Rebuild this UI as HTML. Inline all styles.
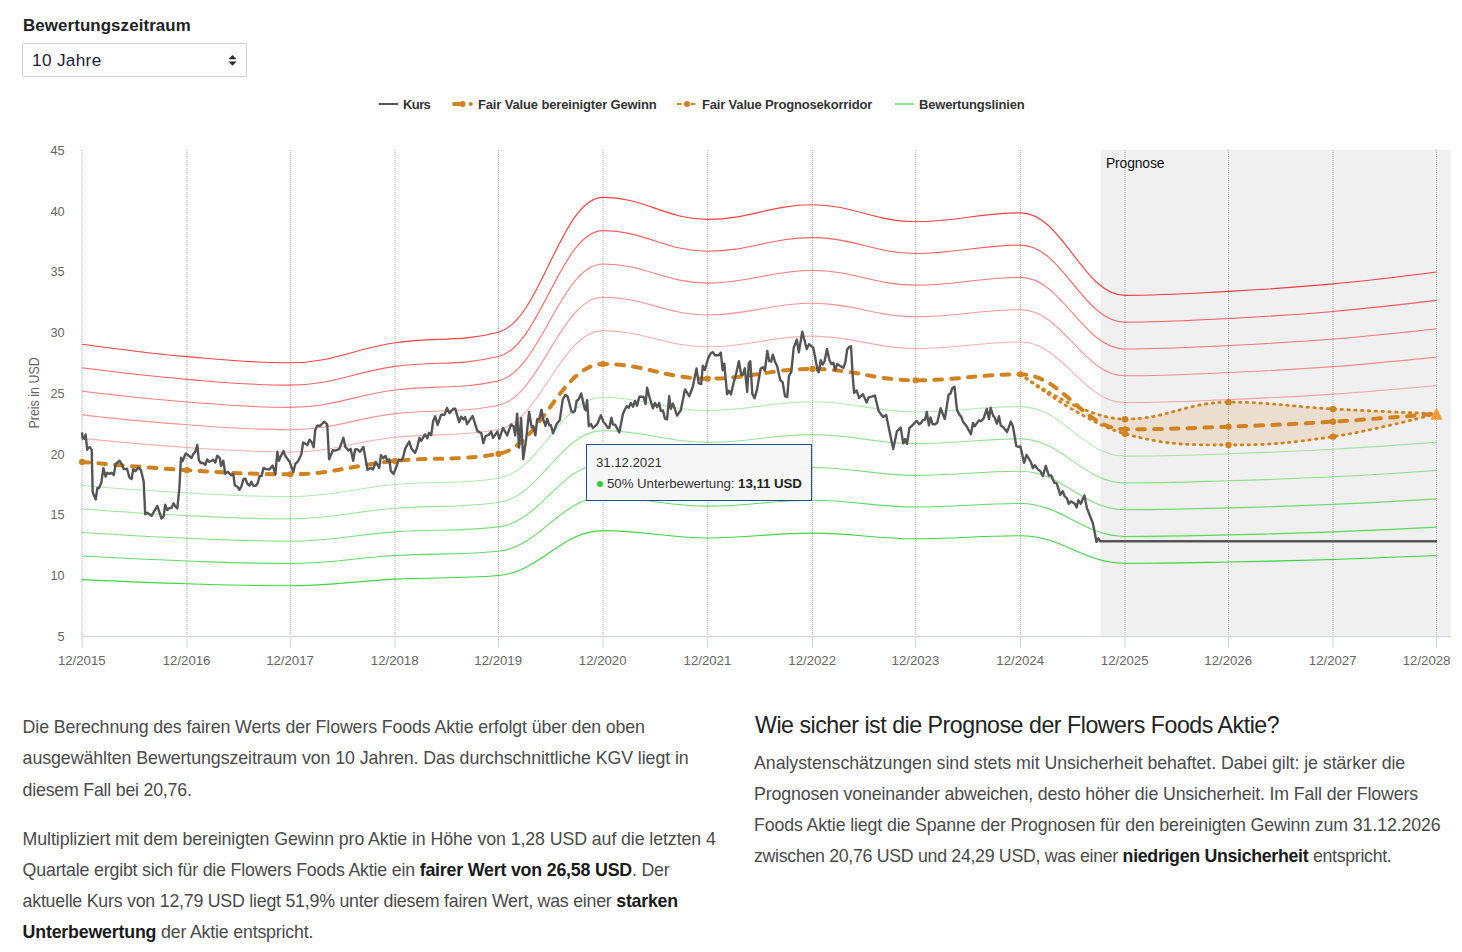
<!DOCTYPE html>
<html><head><meta charset="utf-8"><style>
*{margin:0;padding:0;box-sizing:border-box}
html,body{width:1462px;height:952px;overflow:hidden;background:#fff}
body{font-family:"Liberation Sans",sans-serif;position:relative;color:#333}
svg text{font-family:"Liberation Sans",sans-serif}
.t{position:absolute;white-space:nowrap}
.t b{color:#1a1a1a}
.sel{position:absolute;left:22px;top:43px;width:225px;height:34px;border:1px solid #d2d2d2;background:#fff}
.sel svg{position:absolute;left:204px;top:10px}
.tt{position:absolute;left:586px;top:444px;width:226px;height:57px;border:1px solid #1f4d96;background:#f7f7f7}
.dot{position:absolute;left:596.7px;top:480.9px;width:6.6px;height:6.6px;border-radius:50%;background:#33cc33}
</style></head><body>
<div class="sel"><svg width="12" height="14" viewBox="0 0 12 14"><path d="M1.45 5.3 L5.5 1.1 L9.55 5.3Z M1.45 7.6 L5.5 11.7 L9.55 7.6Z" fill="#2a2a2a"/></svg></div>
<svg width="1462" height="20" style="position:absolute;left:0;top:94px">
<g font-size="12.5" font-weight="bold" fill="#333">
<path d="M379 10 H398" stroke="#555" stroke-width="2"/>
<path d="M454 10 H462" stroke="#cf821f" stroke-width="3.8" stroke-linecap="round"/><circle cx="462.6" cy="10" r="2.9" fill="#cf821f"/><circle cx="470.8" cy="10" r="2" fill="#cf821f"/>
<path d="M677 10 H681.5 M691 10 H695.5" stroke="#cf821f" stroke-width="2"/><circle cx="687" cy="10" r="3" fill="#cf821f"/>
<path d="M895 10 H914" stroke="#8fe88f" stroke-width="2"/>
</g></svg>
<svg width="1462" height="610" viewBox="0 100 1462 610" style="position:absolute;left:0;top:100px">
<rect x="1100.4" y="150" width="350.5" height="486" fill="#f0f0f0"/>
<g stroke="#b0b0b0" stroke-width="1" stroke-dasharray="1,1" fill="none"><path d="M82.1 150 V636" /><path d="M186.9 150 V636" /><path d="M290.3 150 V636" /><path d="M395.0 150 V636" /><path d="M498.5 150 V636" /><path d="M603.0 150 V636" /><path d="M707.7 150 V636" /><path d="M812.5 150 V636" /><path d="M915.7 150 V636" /><path d="M1020.5 150 V636" /><path d="M1125.0 150 V636" /><path d="M1228.5 150 V636" /><path d="M1333.0 150 V636" /><path d="M1436.5 150 V636" /></g>
<g fill="none" stroke-width="1.1"><path d="M82.10 438.37 C82.10 438.37 144.98 444.71 186.90 447.46 C228.26 450.17 248.94 452.00 290.30 452.00 C332.18 452.00 353.12 441.82 395.00 437.30 C436.40 432.84 457.10 437.30 498.50 429.55 C540.30 421.80 561.20 330.65 603.00 330.65 C644.88 330.65 665.82 346.82 707.70 346.82 C749.62 346.82 770.58 336.13 812.50 336.13 C853.78 336.13 874.42 348.56 915.70 348.56 C957.62 348.56 978.58 342.01 1020.50 342.01 C1062.30 342.01 1083.20 402.55 1125.00 402.55 C1166.40 402.55 1187.10 401.29 1228.50 399.61 C1270.30 397.92 1291.20 396.98 1333.00 394.13 C1374.40 391.31 1436.50 385.44 1436.50 385.44" stroke="rgba(255,0,0,0.32)"/><path d="M82.10 414.84 C82.10 414.84 144.98 421.76 186.90 424.75 C228.26 427.70 248.94 429.71 290.30 429.71 C332.18 429.71 353.12 418.60 395.00 413.67 C436.40 408.80 457.10 413.67 498.50 405.21 C540.30 396.76 561.20 297.32 603.00 297.32 C644.88 297.32 665.82 314.96 707.70 314.96 C749.62 314.96 770.58 303.30 812.50 303.30 C853.78 303.30 874.42 316.86 915.70 316.86 C957.62 316.86 978.58 309.71 1020.50 309.71 C1062.30 309.71 1083.20 375.76 1125.00 375.76 C1166.40 375.76 1187.10 374.38 1228.50 372.55 C1270.30 370.71 1291.20 369.68 1333.00 366.58 C1374.40 363.50 1436.50 357.10 1436.50 357.10" stroke="rgba(255,0,0,0.42)"/><path d="M82.10 391.30 C82.10 391.30 144.98 398.80 186.90 402.04 C228.26 405.24 248.94 407.41 290.30 407.41 C332.18 407.41 353.12 395.37 395.00 390.04 C436.40 384.76 457.10 390.04 498.50 380.88 C540.30 371.72 561.20 263.99 603.00 263.99 C644.88 263.99 665.82 283.11 707.70 283.11 C749.62 283.11 770.58 270.47 812.50 270.47 C853.78 270.47 874.42 285.16 915.70 285.16 C957.62 285.16 978.58 277.42 1020.50 277.42 C1062.30 277.42 1083.20 348.97 1125.00 348.97 C1166.40 348.97 1187.10 347.48 1228.50 345.50 C1270.30 343.50 1291.20 342.38 1333.00 339.02 C1374.40 335.69 1436.50 328.75 1436.50 328.75" stroke="rgba(255,0,0,0.52)"/><path d="M82.10 367.77 C82.10 367.77 144.98 375.84 186.90 379.33 C228.26 382.78 248.94 385.12 290.30 385.12 C332.18 385.12 353.12 372.15 395.00 366.41 C436.40 360.72 457.10 366.41 498.50 356.54 C540.30 346.67 561.20 230.67 603.00 230.67 C644.88 230.67 665.82 251.25 707.70 251.25 C749.62 251.25 770.58 237.64 812.50 237.64 C853.78 237.64 874.42 253.46 915.70 253.46 C957.62 253.46 978.58 245.12 1020.50 245.12 C1062.30 245.12 1083.20 322.18 1125.00 322.18 C1166.40 322.18 1187.10 320.57 1228.50 318.44 C1270.30 316.28 1291.20 315.09 1333.00 311.46 C1374.40 307.87 1436.50 300.41 1436.50 300.41" stroke="rgba(255,0,0,0.62)"/><path d="M82.10 344.23 C82.10 344.23 144.98 352.88 186.90 356.62 C228.26 360.32 248.94 362.82 290.30 362.82 C332.18 362.82 353.12 348.93 395.00 342.77 C436.40 336.69 457.10 342.77 498.50 332.20 C540.30 321.63 561.20 197.34 603.00 197.34 C644.88 197.34 665.82 219.39 707.70 219.39 C749.62 219.39 770.58 204.81 812.50 204.81 C853.78 204.81 874.42 221.76 915.70 221.76 C957.62 221.76 978.58 212.83 1020.50 212.83 C1062.30 212.83 1083.20 295.39 1125.00 295.39 C1166.40 295.39 1187.10 293.66 1228.50 291.38 C1270.30 289.07 1291.20 287.79 1333.00 283.91 C1374.40 280.06 1436.50 272.06 1436.50 272.06" stroke="rgba(255,0,0,0.75)"/><path d="M82.10 485.44 C82.10 485.44 144.98 490.63 186.90 492.87 C228.26 495.09 248.94 496.59 290.30 496.59 C332.18 496.59 353.12 488.26 395.00 484.56 C436.40 480.91 457.10 484.56 498.50 478.22 C540.30 471.88 561.20 397.30 603.00 397.30 C644.88 397.30 665.82 410.53 707.70 410.53 C749.62 410.53 770.58 401.79 812.50 401.79 C853.78 401.79 874.42 411.96 915.70 411.96 C957.62 411.96 978.58 406.60 1020.50 406.60 C1062.30 406.60 1083.20 456.13 1125.00 456.13 C1166.40 456.13 1187.10 455.10 1228.50 453.73 C1270.30 452.34 1291.20 451.57 1333.00 449.24 C1374.40 446.94 1436.50 442.14 1436.50 442.14" stroke="rgba(0,200,0,0.32)"/><path d="M82.10 508.97 C82.10 508.97 144.98 513.59 186.90 515.58 C228.26 517.55 248.94 518.89 290.30 518.89 C332.18 518.89 353.12 511.48 395.00 508.20 C436.40 504.95 457.10 508.20 498.50 502.56 C540.30 496.92 561.20 430.63 603.00 430.63 C644.88 430.63 665.82 442.39 707.70 442.39 C749.62 442.39 770.58 434.62 812.50 434.62 C853.78 434.62 874.42 443.66 915.70 443.66 C957.62 443.66 978.58 438.89 1020.50 438.89 C1062.30 438.89 1083.20 482.92 1125.00 482.92 C1166.40 482.92 1187.10 482.00 1228.50 480.79 C1270.30 479.55 1291.20 478.87 1333.00 476.80 C1374.40 474.75 1436.50 470.48 1436.50 470.48" stroke="rgba(0,200,0,0.42)"/><path d="M82.10 532.51 C82.10 532.51 144.98 536.54 186.90 538.29 C228.26 540.01 248.94 541.18 290.30 541.18 C332.18 541.18 353.12 534.70 395.00 531.83 C436.40 528.99 457.10 531.83 498.50 526.89 C540.30 521.96 561.20 463.96 603.00 463.96 C644.88 463.96 665.82 474.25 707.70 474.25 C749.62 474.25 770.58 467.44 812.50 467.44 C853.78 467.44 874.42 475.35 915.70 475.35 C957.62 475.35 978.58 471.19 1020.50 471.19 C1062.30 471.19 1083.20 509.71 1125.00 509.71 C1166.40 509.71 1187.10 508.91 1228.50 507.84 C1270.30 506.77 1291.20 506.17 1333.00 504.36 C1374.40 502.56 1436.50 498.83 1436.50 498.83" stroke="rgba(0,200,0,0.52)"/><path d="M82.10 556.04 C82.10 556.04 144.98 559.50 186.90 561.00 C228.26 562.48 248.94 563.48 290.30 563.48 C332.18 563.48 353.12 557.92 395.00 555.46 C436.40 553.02 457.10 555.46 498.50 551.23 C540.30 547.00 561.20 497.29 603.00 497.29 C644.88 497.29 665.82 506.11 707.70 506.11 C749.62 506.11 770.58 500.27 812.50 500.27 C853.78 500.27 874.42 507.05 915.70 507.05 C957.62 507.05 978.58 503.48 1020.50 503.48 C1062.30 503.48 1083.20 536.51 1125.00 536.51 C1166.40 536.51 1187.10 535.82 1228.50 534.90 C1270.30 533.98 1291.20 533.47 1333.00 531.91 C1374.40 530.37 1436.50 527.17 1436.50 527.17" stroke="rgba(0,200,0,0.62)"/><path d="M82.10 579.58 C82.10 579.58 144.98 582.46 186.90 583.71 C228.26 584.94 248.94 585.77 290.30 585.77 C332.18 585.77 353.12 581.14 395.00 579.09 C436.40 577.06 457.10 579.09 498.50 575.57 C540.30 572.04 561.20 530.61 603.00 530.61 C644.88 530.61 665.82 537.96 707.70 537.96 C749.62 537.96 770.58 533.10 812.50 533.10 C853.78 533.10 874.42 538.75 915.70 538.75 C957.62 538.75 978.58 535.78 1020.50 535.78 C1062.30 535.78 1083.20 563.30 1125.00 563.30 C1166.40 563.30 1187.10 562.72 1228.50 561.96 C1270.30 561.19 1291.20 560.76 1333.00 559.47 C1374.40 558.19 1436.50 555.52 1436.50 555.52" stroke="rgba(0,200,0,0.75)"/></g>
<path d="M1020.50 374.30 C1020.50 374.30 1083.20 419.14 1125.00 419.14 C1166.40 419.14 1187.10 402.13 1228.50 402.13 C1270.30 402.13 1291.20 406.59 1333.00 408.93 C1374.40 411.25 1436.50 413.79 1436.50 413.79 L1436.50 413.79 C1436.50 413.79 1374.40 430.42 1333.00 436.63 C1291.20 442.91 1270.30 445.02 1228.50 445.02 C1187.10 445.02 1166.40 445.02 1125.00 433.84 C1083.20 422.66 1020.50 374.30 1020.50 374.30 Z" fill="rgba(213,133,39,0.16)" stroke="none"/>
<path d="M1020.50 374.30 C1020.50 374.30 1083.20 419.14 1125.00 419.14 C1166.40 419.14 1187.10 402.13 1228.50 402.13 C1270.30 402.13 1291.20 406.59 1333.00 408.93 C1374.40 411.25 1436.50 413.79 1436.50 413.79" fill="none" stroke="#cf821f" stroke-width="2.8" stroke-dasharray="1.4,5.4" stroke-linecap="round"/>
<path d="M1020.50 374.30 C1020.50 374.30 1083.20 422.66 1125.00 433.84 C1166.40 445.02 1187.10 445.02 1228.50 445.02 C1270.30 445.02 1291.20 442.91 1333.00 436.63 C1374.40 430.42 1436.50 413.79 1436.50 413.79" fill="none" stroke="#cf821f" stroke-width="2.8" stroke-dasharray="1.4,5.4" stroke-linecap="round"/>
<path d="M82.10 461.90 C82.10 461.90 144.98 467.67 186.90 470.17 C228.26 472.63 248.94 474.30 290.30 474.30 C332.18 474.30 353.12 465.04 395.00 460.93 C436.40 456.87 457.10 460.93 498.50 453.89 C540.30 446.84 561.20 363.98 603.00 363.98 C644.88 363.98 665.82 378.68 707.70 378.68 C749.62 378.68 770.58 368.96 812.50 368.96 C853.78 368.96 874.42 380.26 915.70 380.26 C957.62 380.26 978.58 374.30 1020.50 374.30 C1062.30 374.30 1083.20 429.34 1125.00 429.34 C1166.40 429.34 1187.10 428.19 1228.50 426.67 C1270.30 425.13 1291.20 424.28 1333.00 421.69 C1374.40 419.12 1436.50 413.79 1436.50 413.79" fill="none" stroke="#cf821f" stroke-width="4" stroke-dasharray="7.6,9.28" stroke-dashoffset="0.52" stroke-linecap="round"/>
<circle cx="82.10" cy="461.90" r="3.1" fill="#cf821f"/><circle cx="186.90" cy="470.17" r="3.1" fill="#cf821f"/><circle cx="290.30" cy="474.30" r="3.1" fill="#cf821f"/><circle cx="395.00" cy="460.93" r="3.1" fill="#cf821f"/><circle cx="498.50" cy="453.89" r="3.1" fill="#cf821f"/><circle cx="603.00" cy="363.98" r="3.1" fill="#cf821f"/><circle cx="707.70" cy="378.68" r="3.1" fill="#cf821f"/><circle cx="812.50" cy="368.96" r="3.1" fill="#cf821f"/><circle cx="915.70" cy="380.26" r="3.1" fill="#cf821f"/><circle cx="1020.50" cy="374.30" r="3.1" fill="#cf821f"/><circle cx="1125.00" cy="429.34" r="3.1" fill="#cf821f"/><circle cx="1228.50" cy="426.67" r="3.1" fill="#cf821f"/><circle cx="1333.00" cy="421.69" r="3.1" fill="#cf821f"/><circle cx="1125.00" cy="419.14" r="3.2" fill="#cf821f"/><circle cx="1125.00" cy="433.84" r="3.2" fill="#cf821f"/><circle cx="1228.50" cy="402.13" r="3.2" fill="#cf821f"/><circle cx="1228.50" cy="445.02" r="3.2" fill="#cf821f"/><circle cx="1333.00" cy="408.93" r="3.2" fill="#cf821f"/><circle cx="1333.00" cy="436.63" r="3.2" fill="#cf821f"/>
<path d="M82.0 432.4 L82.7 438.7 L84.1 437.1 L84.8 438.7 L85.6 434.5 L87.2 449.7 L88.5 447.6 L90.1 447.3 L91.7 449.7 L92.7 492.2 L95.7 499.6 L97.4 488.0 L99.0 488.0 L101.3 482.8 L103.4 468.1 L105.5 476.5 L107.2 472.8 L109.5 473.9 L111.6 472.8 L113.7 474.9 L115.8 463.9 L119.5 460.7 L122.1 464.9 L123.7 469.1 L126.9 468.6 L129.5 477.5 L131.6 479.1 L133.2 469.1 L135.3 471.2 L138.4 467.6 L141.0 470.2 L143.7 481.7 L145.2 514.3 L147.3 512.7 L151.5 515.9 L157.3 505.9 L161.5 518.5 L163.6 516.4 L165.2 504.8 L167.3 510.1 L169.4 508.0 L171.5 508.0 L173.6 503.3 L175.2 506.4 L177.3 508.5 L179.4 488.0 L181.0 457.6 L182.5 461.2 L185.7 453.4 L188.4 455.3 L191.5 458.0 L193.4 453.8 L195.3 451.8 L197.3 444.9 L198.8 459.9 L200.7 463.0 L203.4 463.0 L205.3 464.9 L207.2 459.5 L209.1 461.8 L211.1 461.0 L213.4 459.9 L215.3 462.6 L217.2 455.7 L219.9 458.4 L221.0 466.0 L223.3 460.7 L225.2 473.7 L227.9 471.8 L231.0 475.2 L233.3 474.1 L234.8 485.2 L237.5 486.7 L239.4 489.8 L241.3 486.7 L243.6 479.0 L245.5 478.7 L247.1 483.3 L249.4 485.6 L251.3 481.7 L253.2 485.6 L255.5 485.9 L257.8 482.9 L259.7 476.0 L261.6 476.0 L263.5 467.9 L266.2 469.1 L269.3 469.5 L272.7 465.6 L275.4 474.1 L277.3 451.8 L278.9 460.7 L281.2 455.3 L283.5 451.1 L285.4 456.1 L289.6 461.8 L293.4 472.1 L295.3 463.8 L297.9 461.5 L301.3 454.4 L303.2 442.4 L307.3 445.0 L309.6 439.7 L311.8 442.4 L313.7 447.2 L315.2 430.3 L317.1 425.8 L320.1 425.8 L322.4 423.5 L324.2 421.7 L327.2 424.3 L329.1 459.3 L332.9 450.3 L335.1 450.6 L339.3 449.1 L343.4 437.8 L345.3 446.9 L348.7 450.6 L350.6 448.8 L353.2 460.8 L355.1 449.5 L357.0 449.1 L360.0 451.8 L363.4 446.9 L367.5 469.8 L370.5 467.9 L373.1 469.4 L375.8 461.9 L379.2 467.9 L381.0 455.1 L383.3 458.2 L385.6 455.9 L387.4 461.2 L389.3 459.3 L390.8 470.9 L393.5 474.0 L395.8 468.3 L398.9 459.6 L401.3 460.4 L402.9 458.0 L405.2 448.6 L409.2 441.5 L411.5 448.6 L415.1 452.9 L417.1 447.8 L419.4 438.0 L421.4 440.7 L424.9 434.4 L427.3 438.3 L428.9 432.8 L431.2 435.2 L433.2 421.0 L435.2 416.3 L437.6 424.9 L441.1 414.7 L444.6 414.7 L447.0 408.0 L449.4 413.1 L453.3 408.8 L455.3 408.8 L459.2 422.2 L461.2 416.7 L463.6 419.4 L465.1 417.1 L467.1 424.2 L472.6 415.9 L477.3 430.9 L481.3 433.2 L483.3 443.1 L485.6 436.0 L488.8 434.8 L491.1 431.6 L493.1 437.9 L497.4 431.6 L499.3 438.8 L503.0 427.9 L507.2 435.4 L511.0 424.5 L513.5 426.2 L515.2 435.4 L517.2 413.6 L519.0 447.6 L521.1 418.2 L523.2 459.0 L526.2 438.8 L529.1 411.9 L531.6 427.0 L533.3 426.2 L535.4 435.4 L537.1 419.5 L539.2 419.0 L541.5 409.8 L543.0 418.6 L545.5 425.8 L547.2 418.6 L549.3 425.3 L550.9 425.3 L553.0 433.3 L556.8 423.7 L559.8 419.9 L562.7 399.7 L565.2 395.1 L567.7 396.8 L571.5 411.5 L573.2 412.3 L574.9 411.1 L576.6 401.0 L578.7 399.3 L581.2 393.4 L584.6 408.5 L585.8 410.2 L587.1 400.1 L588.8 426.2 L590.9 424.1 L593.0 427.9 L597.2 424.1 L600.9 415.3 L603.5 422.0 L605.1 423.7 L607.7 427.7 L609.3 427.7 L611.4 417.7 L613.0 424.6 L615.1 424.6 L619.3 432.5 L623.0 413.5 L626.6 406.2 L628.7 407.8 L630.8 403.0 L633.0 406.7 L635.0 400.9 L637.1 405.7 L639.2 396.7 L643.4 396.7 L645.6 404.1 L647.1 387.8 L649.8 398.3 L652.9 408.3 L655.0 403.0 L657.1 407.2 L659.2 403.0 L660.8 410.9 L662.9 410.4 L665.0 418.8 L667.1 419.3 L669.2 396.2 L670.8 408.8 L672.9 403.6 L677.1 415.6 L680.7 410.4 L685.0 389.4 L689.2 396.2 L692.8 386.8 L696.5 368.4 L698.6 383.1 L701.2 384.1 L702.8 365.7 L704.9 369.9 L708.2 358.1 L710.9 353.0 L712.9 352.2 L714.9 355.3 L718.8 355.3 L720.8 352.6 L722.7 370.3 L724.3 363.6 L727.1 394.3 L729.0 390.8 L731.0 394.3 L733.4 383.7 L736.5 372.3 L738.9 361.2 L741.2 374.6 L742.8 375.0 L744.8 368.3 L747.2 392.0 L748.7 363.6 L750.3 361.2 L752.3 393.6 L754.6 398.3 L757.0 389.6 L760.6 368.7 L762.9 367.2 L764.9 370.7 L767.3 351.0 L769.2 360.9 L771.2 361.6 L772.8 354.6 L775.1 362.0 L777.1 366.0 L780.3 380.2 L782.6 382.1 L785.0 396.3 L787.3 396.7 L788.9 376.2 L791.3 371.9 L793.7 347.9 L796.8 339.6 L798.8 352.2 L802.3 331.7 L806.7 349.0 L809.0 344.3 L813.2 347.6 L815.7 360.2 L817.6 370.9 L818.8 372.2 L820.7 360.2 L822.6 364.6 L824.5 361.5 L827.0 348.9 L829.5 360.2 L831.4 364.0 L833.3 362.7 L835.2 370.3 L837.1 364.0 L840.2 365.9 L843.4 367.8 L845.3 362.7 L847.2 349.5 L849.1 347.0 L851.0 346.3 L852.8 377.2 L854.1 393.0 L856.6 390.4 L859.1 398.0 L862.9 394.2 L866.7 402.4 L868.6 397.4 L871.7 396.7 L874.9 395.5 L878.7 411.2 L883.1 416.9 L886.2 415.0 L889.4 430.8 L893.2 449.0 L896.9 431.4 L900.7 427.6 L903.2 443.4 L905.1 439.0 L907.0 444.0 L909.5 427.6 L912.1 425.7 L916.5 420.7 L919.2 424.2 L921.3 422.5 L923.0 420.0 L925.1 419.5 L926.8 412.0 L928.9 425.4 L930.5 417.4 L932.6 424.2 L935.2 424.2 L937.3 422.5 L940.6 408.2 L942.7 413.7 L944.8 419.1 L948.6 394.7 L950.3 393.9 L952.4 388.0 L954.5 386.8 L957.0 409.9 L959.5 414.9 L961.2 416.6 L962.9 421.6 L967.1 427.1 L970.9 434.2 L973.0 422.9 L974.7 426.3 L978.9 420.4 L981.0 421.2 L983.5 418.7 L986.8 409.0 L989.0 419.1 L990.6 407.8 L993.2 415.8 L994.4 417.0 L996.9 423.7 L999.0 416.2 L1000.7 425.4 L1002.8 426.7 L1007.0 432.1 L1010.8 421.6 L1012.9 426.3 L1016.3 446.0 L1017.9 446.8 L1020.4 446.5 L1024.1 462.8 L1026.5 454.9 L1030.7 461.6 L1032.9 468.2 L1034.9 465.2 L1037.9 469.4 L1040.4 471.2 L1042.8 476.1 L1045.8 465.8 L1048.8 475.5 L1051.2 475.5 L1054.3 482.7 L1056.7 483.3 L1060.3 494.8 L1062.7 491.2 L1064.5 496.0 L1066.9 498.4 L1068.7 503.8 L1071.2 501.4 L1074.8 503.8 L1076.6 507.5 L1078.4 500.2 L1080.8 503.8 L1084.4 495.4 L1086.9 508.1 L1092.9 523.2 L1096.5 541.9 L1098.3 538.3 L1100.1 541.3 L1437.0 541.3" fill="none" stroke="#555" stroke-width="2.4" stroke-linejoin="round"/>
<path d="M1436.50 407.29 L1442.50 419.79 L1430.50 419.79 Z" fill="#fb9a35"/>
<path d="M82 636.5 H1451" stroke="#ccd6eb" stroke-width="1"/>
<g stroke="#ccd6eb" stroke-width="1"><path d="M82.10 636 V648"/><path d="M186.90 636 V648"/><path d="M290.30 636 V648"/><path d="M395.00 636 V648"/><path d="M498.50 636 V648"/><path d="M603.00 636 V648"/><path d="M707.70 636 V648"/><path d="M812.50 636 V648"/><path d="M915.70 636 V648"/><path d="M1020.50 636 V648"/><path d="M1125.00 636 V648"/><path d="M1228.50 636 V648"/><path d="M1333.00 636 V648"/><path d="M1436.50 636 V648"/></g>
<g fill="#666"><text x="64.6" y="640.9" text-anchor="end" font-size="12.7">5</text><text x="64.6" y="580.1" text-anchor="end" font-size="12.7">10</text><text x="64.6" y="519.4" text-anchor="end" font-size="12.7">15</text><text x="64.6" y="458.6" text-anchor="end" font-size="12.7">20</text><text x="64.6" y="397.9" text-anchor="end" font-size="12.7">25</text><text x="64.6" y="337.1" text-anchor="end" font-size="12.7">30</text><text x="64.6" y="276.4" text-anchor="end" font-size="12.7">35</text><text x="64.6" y="215.7" text-anchor="end" font-size="12.7">40</text><text x="64.6" y="154.9" text-anchor="end" font-size="12.7">45</text><text x="81.8" y="665" text-anchor="middle" font-size="13" textLength="47.7" lengthAdjust="spacingAndGlyphs">12/2015</text><text x="186.6" y="665" text-anchor="middle" font-size="13" textLength="47.7" lengthAdjust="spacingAndGlyphs">12/2016</text><text x="290.0" y="665" text-anchor="middle" font-size="13" textLength="47.7" lengthAdjust="spacingAndGlyphs">12/2017</text><text x="394.7" y="665" text-anchor="middle" font-size="13" textLength="47.7" lengthAdjust="spacingAndGlyphs">12/2018</text><text x="498.2" y="665" text-anchor="middle" font-size="13" textLength="47.7" lengthAdjust="spacingAndGlyphs">12/2019</text><text x="602.7" y="665" text-anchor="middle" font-size="13" textLength="47.7" lengthAdjust="spacingAndGlyphs">12/2020</text><text x="707.4" y="665" text-anchor="middle" font-size="13" textLength="47.7" lengthAdjust="spacingAndGlyphs">12/2021</text><text x="812.2" y="665" text-anchor="middle" font-size="13" textLength="47.7" lengthAdjust="spacingAndGlyphs">12/2022</text><text x="915.4" y="665" text-anchor="middle" font-size="13" textLength="47.7" lengthAdjust="spacingAndGlyphs">12/2023</text><text x="1020.2" y="665" text-anchor="middle" font-size="13" textLength="47.7" lengthAdjust="spacingAndGlyphs">12/2024</text><text x="1124.7" y="665" text-anchor="middle" font-size="13" textLength="47.7" lengthAdjust="spacingAndGlyphs">12/2025</text><text x="1228.2" y="665" text-anchor="middle" font-size="13" textLength="47.7" lengthAdjust="spacingAndGlyphs">12/2026</text><text x="1332.7" y="665" text-anchor="middle" font-size="13" textLength="47.7" lengthAdjust="spacingAndGlyphs">12/2027</text><text x="1426.6" y="665" text-anchor="middle" font-size="13" textLength="47.7" lengthAdjust="spacingAndGlyphs">12/2028</text></g>
<text transform="translate(39.4,392.9) rotate(-90)" text-anchor="middle" font-size="14" textLength="71.2" lengthAdjust="spacingAndGlyphs" fill="#666">Preis in USD</text>
</svg>
<div class="tt"></div>
<div class="dot"></div>
<div id="lbl" class="t" style="left:22.999999999999986px;top:14.54px;font-size:16.9px;line-height:22px;font-weight:bold;color:#222;letter-spacing:0.094px">Bewertungszeitraum</div>
<div id="sel" class="t" style="left:32.0px;top:48.74px;font-size:17.2px;line-height:22px;font-weight:normal;color:#1c2238;letter-spacing:0.329px">10 Jahre</div>
<div id="lg1" class="t" style="left:403.0px;top:95.90px;font-size:13px;line-height:17px;font-weight:bold;color:#333;letter-spacing:-0.600px">Kurs</div>
<div id="lg2" class="t" style="left:477.9000000000001px;top:95.90px;font-size:13px;line-height:17px;font-weight:bold;color:#333;letter-spacing:-0.139px">Fair Value bereinigter Gewinn</div>
<div id="lg3" class="t" style="left:701.9999999999995px;top:95.90px;font-size:13px;line-height:17px;font-weight:bold;color:#333;letter-spacing:-0.177px">Fair Value Prognosekorridor</div>
<div id="lg4" class="t" style="left:919.0px;top:95.90px;font-size:13px;line-height:17px;font-weight:bold;color:#333;letter-spacing:-0.180px">Bewertungslinien</div>
<div id="prog" class="t" style="left:1106.000000000001px;top:154.08px;font-size:13.9px;line-height:18px;font-weight:normal;color:#111;letter-spacing:-0.143px">Prognose</div>
<div id="tt1" class="t" style="left:596.0000000000002px;top:453.89px;font-size:13.3px;line-height:17px;font-weight:normal;color:#333;letter-spacing:-0.078px">31.12.2021</div>
<div id="tt2" class="t" style="left:607.0px;top:474.79px;font-size:13.3px;line-height:17px;font-weight:normal;color:#333;letter-spacing:-0.061px">50% Unterbewertung: <b style="color:#222">13,11 USD</b></div>
<div id="p1" class="t" style="left:22.6px;top:716.23px;font-size:17.8px;line-height:23px;font-weight:normal;color:#4a4a4a;letter-spacing:-0.117px">Die Berechnung des fairen Werts der Flowers Foods Aktie erfolgt über den oben</div>
<div id="p2" class="t" style="left:22.6px;top:747.43px;font-size:17.8px;line-height:23px;font-weight:normal;color:#4a4a4a;letter-spacing:-0.075px">ausgewählten Bewertungszeitraum von 10 Jahren. Das durchschnittliche KGV liegt in</div>
<div id="p3" class="t" style="left:22.6px;top:778.63px;font-size:17.8px;line-height:23px;font-weight:normal;color:#4a4a4a;letter-spacing:-0.224px">diesem Fall bei 20,76.</div>
<div id="p4" class="t" style="left:22.6px;top:828.23px;font-size:17.8px;line-height:23px;font-weight:normal;color:#4a4a4a;letter-spacing:-0.097px">Multipliziert mit dem bereinigten Gewinn pro Aktie in Höhe von 1,28 USD auf die letzten 4</div>
<div id="p5" class="t" style="left:22.6px;top:859.23px;font-size:17.8px;line-height:23px;font-weight:normal;color:#4a4a4a;letter-spacing:-0.191px">Quartale ergibt sich für die Flowers Foods Aktie ein <b>fairer Wert von 26,58 USD</b>. Der</div>
<div id="p6" class="t" style="left:22.6px;top:890.23px;font-size:17.8px;line-height:23px;font-weight:normal;color:#4a4a4a;letter-spacing:-0.234px">aktuelle Kurs von 12,79 USD liegt 51,9% unter diesem fairen Wert, was einer <b>starken</b></div>
<div id="p7" class="t" style="left:22.6px;top:921.23px;font-size:17.8px;line-height:23px;font-weight:normal;color:#4a4a4a;letter-spacing:-0.189px"><b>Unterbewertung</b> der Aktie entspricht.</div>
<div id="h2" class="t" style="left:755.0px;top:709.96px;font-size:23.2px;line-height:30px;font-weight:normal;color:#222;letter-spacing:-0.478px">Wie sicher ist die Prognose der Flowers Foods Aktie?</div>
<div id="r1" class="t" style="left:754.0px;top:751.73px;font-size:17.8px;line-height:23px;font-weight:normal;color:#4a4a4a;letter-spacing:-0.060px">Analystenschätzungen sind stets mit Unsicherheit behaftet. Dabei gilt: je stärker die</div>
<div id="r2" class="t" style="left:754.0px;top:782.93px;font-size:17.8px;line-height:23px;font-weight:normal;color:#4a4a4a;letter-spacing:-0.148px">Prognosen voneinander abweichen, desto höher die Unsicherheit. Im Fall der Flowers</div>
<div id="r3" class="t" style="left:754.0px;top:814.13px;font-size:17.8px;line-height:23px;font-weight:normal;color:#4a4a4a;letter-spacing:-0.136px">Foods Aktie liegt die Spanne der Prognosen für den bereinigten Gewinn zum 31.12.2026</div>
<div id="r4" class="t" style="left:754.0px;top:845.13px;font-size:17.8px;line-height:23px;font-weight:normal;color:#4a4a4a;letter-spacing:-0.316px">zwischen 20,76 USD und 24,29 USD, was einer <b>niedrigen Unsicherheit</b> entspricht.</div>
</body></html>
